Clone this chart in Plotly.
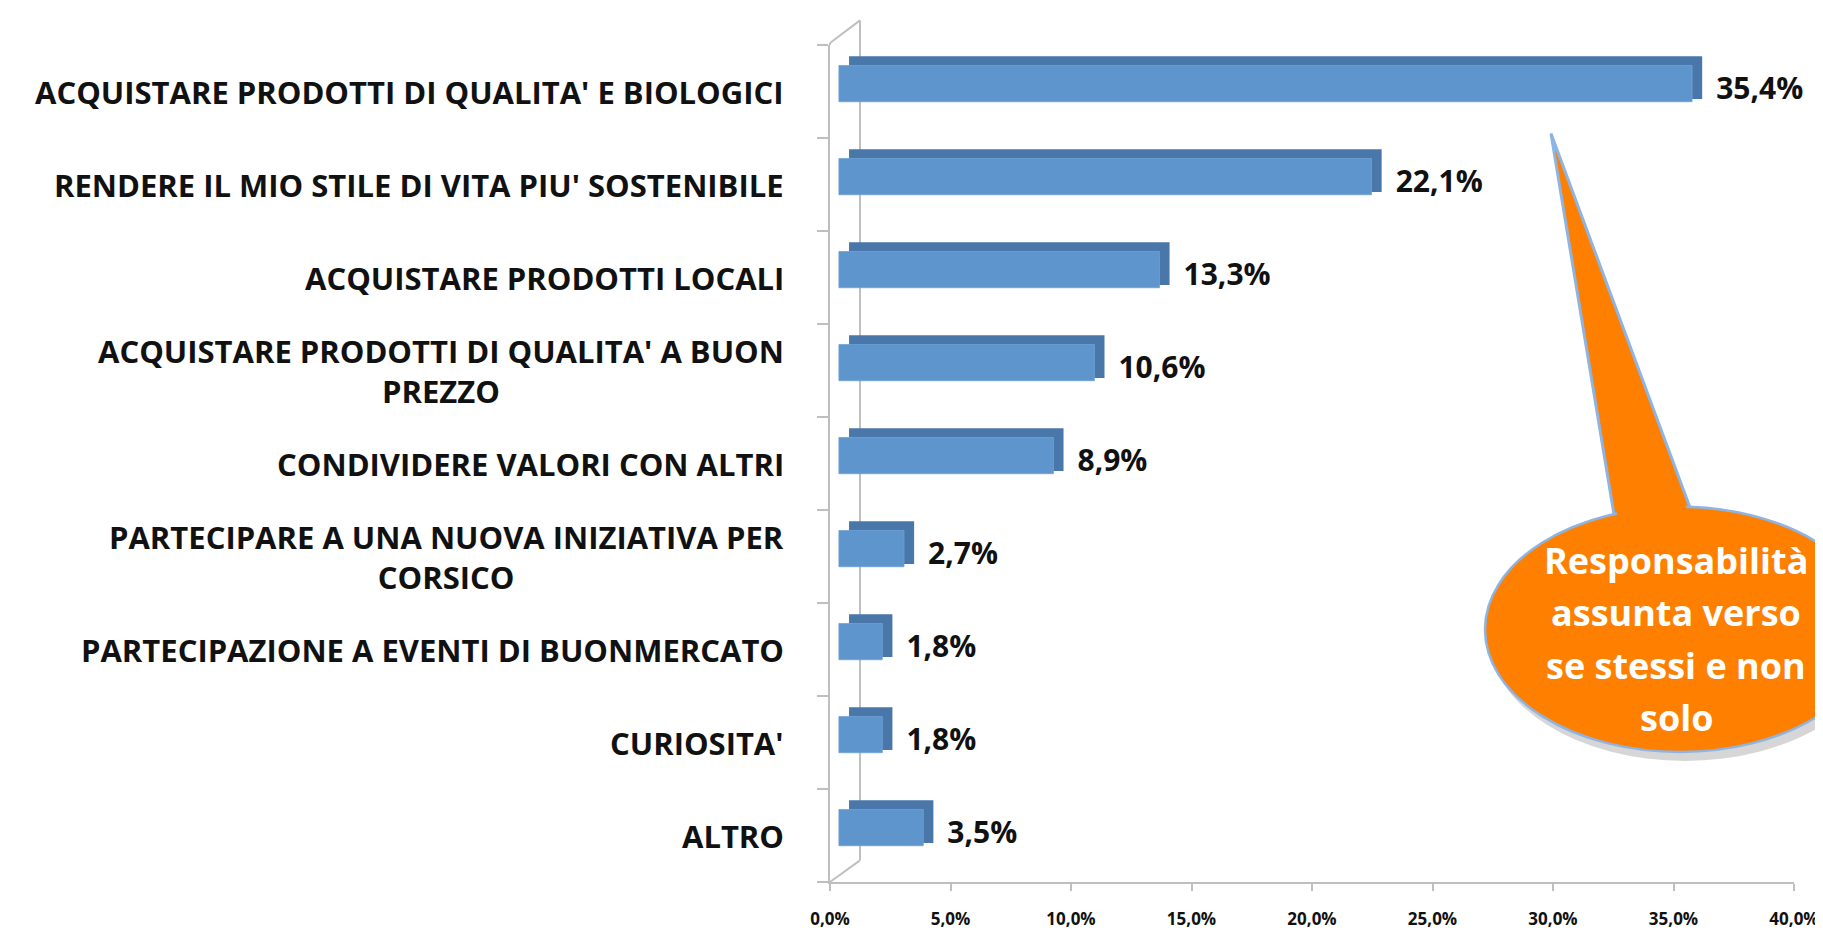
import plotly.graph_objects as go

# ---------------- data ----------------
categories = [
    "ACQUISTARE PRODOTTI DI QUALITA' E BIOLOGICI",
    "RENDERE IL MIO STILE DI VITA PIU' SOSTENIBILE",
    "ACQUISTARE PRODOTTI LOCALI",
    "ACQUISTARE PRODOTTI DI QUALITA' A BUON<br>PREZZO",
    "CONDIVIDERE VALORI CON ALTRI",
    "PARTECIPARE A UNA NUOVA INIZIATIVA PER<br>CORSICO",
    "PARTECIPAZIONE A EVENTI DI BUONMERCATO",
    "CURIOSITA'",
    "ALTRO",
]
values = [35.4, 22.1, 13.3, 10.6, 8.9, 2.7, 1.8, 1.8, 3.5]
tick_values = [0, 5, 10, 15, 20, 25, 30, 35, 40]
tick_labels = ["0,0%", "5,0%", "10,0%", "15,0%", "20,0%", "25,0%", "30,0%", "35,0%", "40,0%"]
value_labels = [f"{v:.1f}".replace(".", ",") + "%" for v in values]
callout_lines = ["Responsabilità", "assunta verso", "se stessi e non", "solo"]

# ---------------- style ----------------
FONT = "Open Sans"
front_base = 0.37      # 3D floor offset of the front face
depth = 0.42           # 3D depth (in % units)
label_pad = 1.0
n = len(values)

# plot area in pixels (for paper conversions of decorative shapes)
L, R, T, B = 822, 1786, 37, 887
def px(x):
    return (x - L) / (R - L)
def py(y):
    return (B - y) / (B - T)

fig = go.Figure()

# dark (top + side) face of the 3D bars
fig.add_trace(go.Bar(
    y=categories, x=values, base=[front_base + depth] * n, orientation="h",
    offset=-0.08, width=0.46,
    marker=dict(color="#4A77AA", line=dict(width=0)),
    hoverinfo="skip", showlegend=False,
))
# front face
fig.add_trace(go.Bar(
    y=categories, x=values, base=[front_base] * n, orientation="h",
    offset=-0.11, width=0.39,
    marker=dict(color="#5E95CC", line=dict(color="#6EA2D6", width=0.8)),
    showlegend=False,
))
# value labels
fig.add_trace(go.Scatter(
    y=categories, x=[v + front_base + label_pad for v in values],
    mode="text", text=value_labels, textposition="middle right",
    textfont=dict(family=FONT, size=30, color="#111111", weight="bold"),
    showlegend=False, hoverinfo="skip", cliponaxis=False,
))

annotations = []
for c in categories:
    annotations.append(dict(
        x=0, xref="paper", y=c, yref="y", xanchor="right", yanchor="middle",
        xshift=-44, text=c, showarrow=False, align="center",
        font=dict(family=FONT, size=31, color="#111111", weight="bold"),
    ))

# callout text
line_y = [560, 613, 667, 720]
for t, yy in zip(callout_lines, line_y):
    annotations.append(dict(
        x=px(1668), xref="paper", y=py(yy), yref="paper",
        xanchor="center", yanchor="middle", text=t, showarrow=False,
        font=dict(family=FONT, size=36, color="white", weight="bold"),
    ))

axis_gray = "#BFBFBF"
shapes = [
    # 3D back wall lines
    dict(type="line", xref="paper", yref="paper", x0=px(852), y0=py(865), x1=px(852), y1=py(12),
         line=dict(color=axis_gray, width=2), layer="below"),
    dict(type="line", xref="paper", yref="paper", x0=0, y0=py(T - 2), x1=px(852), y1=py(12),
         line=dict(color=axis_gray, width=2), layer="below"),
    dict(type="line", xref="paper", yref="paper", x0=0, y0=0, x1=px(852), y1=py(865),
         line=dict(color=axis_gray, width=2), layer="below"),
    dict(type="line", xref="paper", yref="paper", x0=0, y0=py(T - 2), x1=0, y1=1,
         line=dict(color=axis_gray, width=2), layer="below"),
    # callout shadow
    dict(type="circle", xref="paper", yref="paper",
         x0=px(1481), x1=px(1873), y0=py(512), y1=py(764),
         fillcolor="rgba(0,0,0,0.16)", line=dict(width=0), layer="above"),
    # callout tail
    dict(type="path", xref="paper", yref="paper",
         path=f"M {px(1543)} {py(127)} L {px(1607)} {py(520)} L {px(1685)} {py(515)} Z",
         fillcolor="#FF7F00", line=dict(color="#8DB4E2", width=3), layer="above"),
    # callout body
    dict(type="circle", xref="paper", yref="paper",
         x0=px(1477), x1=px(1867), y0=py(506), y1=py(755),
         fillcolor="#FF7F00", line=dict(color="#8DB4E2", width=2.5), layer="above"),
    # cover joint between tail and body
    dict(type="path", xref="paper", yref="paper",
         path=f"M {px(1606)} {py(495)} L {px(1674)} {py(495)} L {px(1686)} {py(530)} L {px(1612)} {py(530)} Z",
         fillcolor="#FF7F00", line=dict(width=0), layer="above"),
]

fig.update_layout(
    width=1823, height=934,
    margin=dict(l=L, r=1823 - R, t=T, b=934 - B),
    paper_bgcolor="white", plot_bgcolor="white",
    barmode="overlay",
    showlegend=False,
    font=dict(family=FONT, color="#111111"),
    xaxis=dict(
        range=[0, 40], tickvals=tick_values, ticktext=tick_labels,
        showgrid=False, zeroline=False, showline=True, linecolor=axis_gray, linewidth=2,
        ticks="outside", ticklen=7, tickcolor=axis_gray, tickwidth=2,
        tickfont=dict(family=FONT, size=17, color="#111111", weight="bold"),
        ticklabelstandoff=14,
    ),
    yaxis=dict(
        type="category", categoryorder="array", categoryarray=categories[::-1],
        range=[-0.5, 8.5], showgrid=False, zeroline=False,
        showline=True, linecolor=axis_gray, linewidth=2,
        ticks="outside", tickson="boundaries", ticklen=11, tickcolor=axis_gray, tickwidth=2,
        showticklabels=False,
    ),
    annotations=annotations,
    shapes=shapes,
)

fig.write_html("out.html")
